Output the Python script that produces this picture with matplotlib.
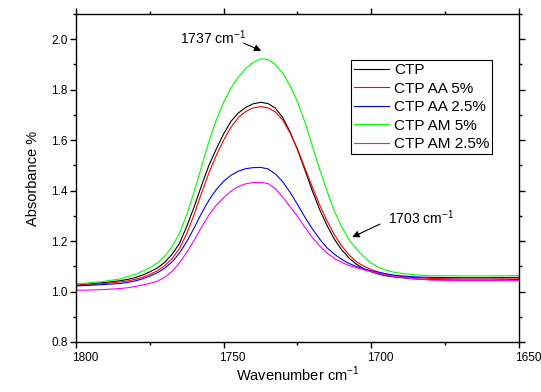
import matplotlib
matplotlib.use('Agg')
import matplotlib.pyplot as plt
import matplotlib.transforms as mtransforms
from matplotlib.ticker import MultipleLocator, FormatStrFormatter

plt.rcParams['font.family'] = ['Liberation Sans', 'DejaVu Sans']

## Wavenumber grid (cm-1)
wavenumber = [1800, 1795, 1790,
              1785, 1782.5, 1780, 1777.5, 1775, 1772.5, 1770, 1767.5, 1765, 1762.5,
              1760, 1757.5, 1755, 1752.5, 1750, 1747.5, 1745, 1742.5, 1740, 1737.5,
              1735, 1732.5, 1730, 1727.5, 1725, 1722.5, 1720, 1717.5, 1715, 1712.5,
              1710, 1707.5, 1705, 1702.5, 1700, 1697.5, 1695, 1692.5, 1690,
              1685, 1680, 1670, 1660, 1650]

## Absorbance values for each sample
ctp = [1.025, 1.030, 1.036,
       1.043, 1.048, 1.055, 1.065, 1.078, 1.093, 1.115, 1.147, 1.190, 1.258,
       1.335, 1.420, 1.500, 1.565, 1.625, 1.675, 1.708, 1.730, 1.744, 1.750,
       1.745, 1.727, 1.690, 1.632, 1.562, 1.482, 1.400, 1.325, 1.262, 1.207,
       1.165, 1.132, 1.108, 1.090, 1.078, 1.069, 1.062, 1.058, 1.055,
       1.050, 1.047, 1.045, 1.045, 1.047]
ctp_aa5 = [1.025, 1.028, 1.032,
           1.038, 1.042, 1.048, 1.056, 1.068, 1.082, 1.102, 1.130, 1.170, 1.230,
           1.305, 1.390, 1.470, 1.540, 1.600, 1.652, 1.690, 1.714, 1.728, 1.733,
           1.728, 1.712, 1.680, 1.628, 1.565, 1.490, 1.415, 1.343, 1.280, 1.225,
           1.180, 1.145, 1.118, 1.100, 1.087, 1.077, 1.069, 1.064, 1.060,
           1.055, 1.052, 1.050, 1.050, 1.050]
ctp_aa25 = [1.022, 1.025, 1.028,
            1.032, 1.036, 1.042, 1.050, 1.061, 1.074, 1.092, 1.117, 1.152, 1.198,
            1.252, 1.310, 1.362, 1.404, 1.437, 1.461, 1.477, 1.487, 1.491, 1.492,
            1.486, 1.466, 1.435, 1.393, 1.345, 1.295, 1.249, 1.208, 1.173, 1.148,
            1.127, 1.111, 1.099, 1.090, 1.082, 1.076, 1.070, 1.065, 1.062,
            1.058, 1.056, 1.055, 1.055, 1.056]
ctp_am5 = [1.030, 1.035, 1.041,
           1.050, 1.059, 1.068, 1.080, 1.094, 1.113, 1.140, 1.177, 1.230, 1.305,
           1.395, 1.495, 1.595, 1.680, 1.750, 1.808, 1.850, 1.885, 1.908, 1.922,
           1.920, 1.900, 1.865, 1.815, 1.752, 1.672, 1.578, 1.485, 1.398, 1.318,
           1.255, 1.205, 1.168, 1.137, 1.113, 1.096, 1.085, 1.077, 1.072,
           1.066, 1.063, 1.062, 1.062, 1.063]
ctp_am25 = [1.005, 1.006, 1.008,
            1.012, 1.015, 1.020, 1.026, 1.032, 1.041, 1.056, 1.080, 1.113, 1.155,
            1.203, 1.255, 1.303, 1.342, 1.372, 1.398, 1.416, 1.427, 1.432, 1.433,
            1.428, 1.408, 1.374, 1.336, 1.298, 1.255, 1.214, 1.181, 1.153, 1.131,
            1.115, 1.103, 1.094, 1.086, 1.079, 1.072, 1.065, 1.060, 1.056,
            1.050, 1.046, 1.043, 1.043, 1.043]

series = [ctp, ctp_aa5, ctp_aa25, ctp_am5, ctp_am25]
labels = ['CTP', 'CTP AA 5%', 'CTP AA 2.5%', 'CTP AM 5%', 'CTP AM 2.5%']
colors = ['#000000', '#ff0000', '#0000ff', '#00ff00', '#ff00ff']

fig = plt.figure(figsize=(5.41, 3.92), dpi=100)
ax = fig.add_axes([0.1405, 0.1276, 0.8188, 0.8367])

for y, lab, c in zip(series, labels, colors):
    ax.plot(wavenumber, y, color=c, linewidth=0.8, label=lab)

ax.set_xlim(1800, 1650)
ax.set_ylim(0.8, 2.1)
ax.xaxis.set_major_locator(MultipleLocator(50))
ax.xaxis.set_minor_locator(MultipleLocator(25))
ax.yaxis.set_major_locator(MultipleLocator(0.2))
ax.yaxis.set_minor_locator(MultipleLocator(0.1))
ax.yaxis.set_major_formatter(FormatStrFormatter('%.1f'))

ax.tick_params(which='both', direction='out', top=True, right=True, width=1.0, labelsize=8.5)
ax.tick_params(which='major', length=4)
ax.tick_params(which='minor', length=2.5)
ax.tick_params(axis='x', pad=3)
ax.tick_params(axis='y', pad=2)
for s in ax.spines.values():
    s.set_linewidth(1.0)

## Origin style x labels sit a bit right of their ticks
offset = mtransforms.ScaledTranslation(9 / 100, 0, fig.dpi_scale_trans)
for lbl in ax.get_xticklabels():
    lbl.set_transform(lbl.get_transform() + offset)

ax.set_xlabel('Wavenumber cm$^{\\mathregular{-1}}$', fontsize=10.5, labelpad=1)
ax.set_ylabel('Absorbance %', fontsize=10.5, labelpad=8)

ax.annotate('', xy=(1736.4, 1.950), xytext=(1744.1, 1.989),
            arrowprops=dict(arrowstyle='-|>', color='black', lw=0.8, mutation_scale=10))
ax.text(1764.7, 2.008, '1737 cm$^{\\mathregular{-1}}$', fontsize=10, ha='left', va='center')
ax.annotate('', xy=(1707.3, 1.211), xytext=(1696.2, 1.272),
            arrowprops=dict(arrowstyle='-|>', color='black', lw=0.8, mutation_scale=10))
ax.text(1694.5, 1.291, '1703 cm$^{\\mathregular{-1}}$', fontsize=10, ha='left', va='center')

leg = ax.legend(loc='upper left', bbox_to_anchor=(0.621, 0.86), borderaxespad=0,
                fontsize=11, handlelength=2.3, handletextpad=0.3, labelspacing=0.3,
                borderpad=0.2, fancybox=False, framealpha=1)
leg.get_frame().set_edgecolor('black')
leg.get_frame().set_linewidth(0.8)

fig.savefig('out.png', dpi=100)
